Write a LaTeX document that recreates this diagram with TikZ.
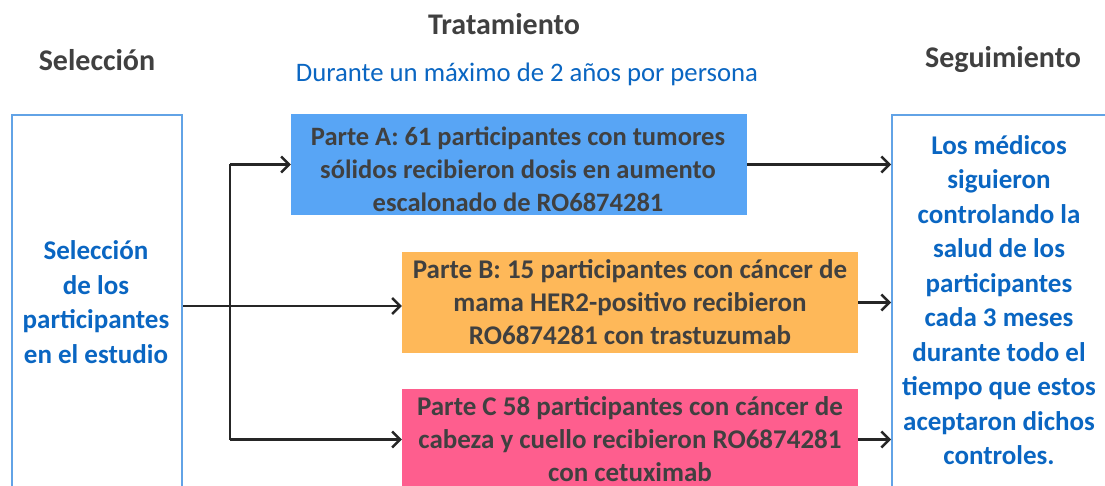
\documentclass[tikz,border=0pt]{standalone}
\usepackage{fontspec}
\setmainfont{Carlito}
\usetikzlibrary{arrows.meta}
\definecolor{boxblue}{HTML}{58A5F5}
\definecolor{boxorange}{HTML}{FEB859}
\definecolor{boxpink}{HTML}{FE5E8E}
\definecolor{txtgray}{HTML}{404040}
\definecolor{txtblue}{HTML}{0A66C2}
\definecolor{edgeblue}{HTML}{62A3E6}
\tikzset{
  part/.style={rectangle, inner sep=0pt, minimum width=456pt, minimum height=101pt,
    text=txtgray, align=center, font=\bfseries\fontsize{27}{33}\selectfont},
  partlabel/.style={inner sep=0pt, text=txtgray, align=center, font=\bfseries\fontsize{26.5}{33}\selectfont},
  side/.style={rectangle, draw=edgeblue, line width=2pt, inner sep=0pt, anchor=north west},
  sidetext/.style={text=txtblue, align=center, font=\bfseries\fontsize{27}{34.5}\selectfont},
  head/.style={text=txtgray, font=\bfseries\fontsize{30}{34}\selectfont},
  conn/.style={line width=2.4pt, black!85, -{Straight Barb[length=8pt,width=16pt,line width=2.4pt]}},
  plain/.style={line width=2.4pt, black!85}
}
\begin{document}
\begin{tikzpicture}[x=1pt,y=-1pt]
\clip (0,0) rectangle (1105,486);
\fill[white] (0,0) rectangle (1105,486);
% headers
\node[head] (h1) at (97,60) {Selección};
\node[head] (h2) at (504,24) {Tratamiento};
\node[head] (h3) at (1003,60) {Seguimiento};
\node[text=txtblue, font=\fontsize{26.7}{30}\selectfont] (dur) at (527,74) {Durante un máximo de 2 años por persona};
% side boxes
\node[side, minimum width=170pt, minimum height=376pt] (sel) at (11,114) {};
\node[sidetext] (seltext) at (96,302) {Selección\\de los\\participantes\\en el estudio};
\node[side, minimum width=220pt, minimum height=400pt] (seg) at (891,114) {};
\node[sidetext] (segtext) at (999,300) {Los médicos\\siguieron\\controlando la\\salud de los\\participantes\\cada 3 meses\\durante todo el\\tiempo que estos\\aceptaron dichos\\controles.};
% parts
\node[part, fill=boxblue] (a) at (519,164.5) {};
\node[partlabel] (atext) at (518,169) {Parte A: 61 participantes con tumores\\sólidos recibieron dosis en aumento\\escalonado de RO6874281};
\node[part, fill=boxorange] (b) at (630,302.5) {Parte B: 15 participantes con cáncer de\\mama HER2-positivo recibieron\\RO6874281 con trastuzumab};
\node[part, fill=boxpink] (c) at (630,439.5) {Parte C 58 participantes con cáncer de\\cabeza y cuello recibieron RO6874281\\con cetuximab};
% connectors
\coordinate (j) at (230,306);
\coordinate (jt) at (230,164.5);
\coordinate (jb) at (230,439.5);
\draw[conn] (sel.east |- j) -- (j -| b.west);
\draw[plain] (jt) -- (jb);
\draw[conn] (jt) -- (a.west);
\draw[conn] (jb) -- (c.west);
\draw[conn] (a.east) -- (a.east -| seg.west);
\draw[conn] (b.east) -- (b.east -| seg.west);
\draw[conn] (c.east) -- (c.east -| seg.west);
\end{tikzpicture}
\end{document}
